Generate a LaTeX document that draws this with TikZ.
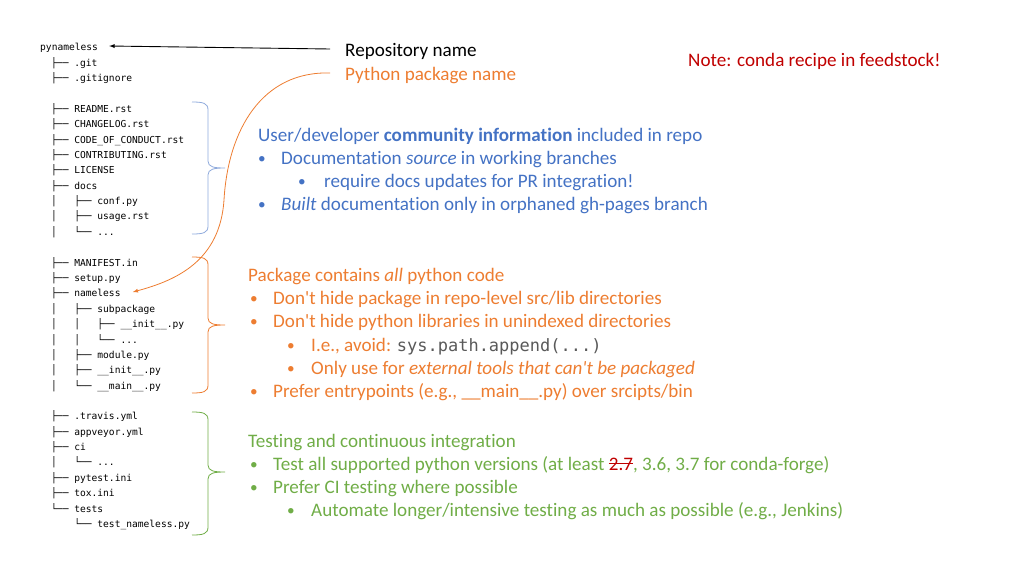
\documentclass[tikz,border=0pt]{standalone}
\usepackage{fontspec}
\setmainfont{Carlito}[Ligatures={NoCommon}]
\newfontfamily\treefont{DejaVu Sans Mono}

\definecolor{docblue}{HTML}{4472C4}
\definecolor{braceblue}{HTML}{8FAADC}
\definecolor{pkgorange}{HTML}{ED7D31}
\definecolor{cigreen}{HTML}{70AD47}
\definecolor{notered}{HTML}{C00000}
\definecolor{codegray}{HTML}{595959}

% right curly brace: colour, x, top, middle, bottom
\newcommand{\sidebrace}[5]{%
  \draw[#1, line width=0.8pt] (#2,#3) .. controls (#2+11,#3) and (#2+16,#3+1) .. (#2+16,#3+8)
    -- (#2+16,#4-7) .. controls (#2+16,#4-1) and (#2+22,#4) .. (#2+33,#4)
    .. controls (#2+22,#4) and (#2+16,#4+1) .. (#2+16,#4+7)
    -- (#2+16,#5-8) .. controls (#2+16,#5-1) and (#2+11,#5) .. (#2,#5);}
\newcommand{\bul}[1]{\makebox[#1][l]{\raisebox{0.5pt}{\scalebox{0.8}{\textbullet}}}}
\newsavebox{\strikebox}
\newcommand{\struck}[1]{\sbox{\strikebox}{#1}\rlap{\rule[0.3em]{\wd\strikebox}{0.8pt}}\usebox{\strikebox}}

\begin{document}
\begin{tikzpicture}
		[x=1pt, y=-1pt,
		tree/.style ={anchor=west, inner sep=0pt, font=\treefont\fontsize{9.6}{11}\selectfont, text height=8pt, text depth=0pt},
		txt/.style ={anchor=west, inner sep=0pt, font=\fontsize{19.1}{22}\selectfont, text height=15pt, text depth=1pt},
		blue/.style = {txt, text=docblue},
		orange/.style = {txt, text=pkgorange},
		green/.style = {txt, text=cigreen},
		]
		\useasboundingbox (0,0) rectangle (1024,576);

		% repository tree
		\draw (40,46) node[tree] (repo) {pynameless};
		\draw (51,62) node[tree] (F1) {├── .git};
		\draw (51,77) node[tree] (F2) {├── .gitignore};
		\draw (51,108) node[tree] (F3) {├── README.rst};
		\draw (51,123) node[tree] (F4) {├── CHANGELOG.rst};
		\draw (51,139) node[tree] (F5) {├── CODE\_OF\_CONDUCT.rst};
		\draw (51,154) node[tree] (F6) {├── CONTRIBUTING.rst};
		\draw (51,169) node[tree] (F7) {├── LICENSE};
		\draw (51,185) node[tree] (F8) {├── docs};
		\draw (51,200) node[tree] (F9) {│\ \ \ ├── conf.py};
		\draw (51,215) node[tree] (F10) {│\ \ \ ├── usage.rst};
		\draw (51,231) node[tree] (F11) {│\ \ \ └── ...};
		\draw (51,262) node[tree] (F12) {├── MANIFEST.in};
		\draw (51,277) node[tree] (F13) {├── setup.py};
		\draw (51,292) node[tree] (pkg) {├── nameless};
		\draw (51,308) node[tree] (F14) {│\ \ \ ├── subpackage};
		\draw (51,323) node[tree] (F15) {│\ \ \ │\ \ \ ├── \_\_init\_\_.py};
		\draw (51,339) node[tree] (F16) {│\ \ \ │\ \ \ └── ...};
		\draw (51,354) node[tree] (F17) {│\ \ \ ├── module.py};
		\draw (51,369) node[tree] (F18) {│\ \ \ ├── \_\_init\_\_.py};
		\draw (51,385) node[tree] (F19) {│\ \ \ └── \_\_main\_\_.py};
		\draw (51,415) node[tree] (F20) {├── .travis.yml};
		\draw (51,431) node[tree] (F21) {├── appveyor.yml};
		\draw (51,446) node[tree] (F22) {├── ci};
		\draw (51,461) node[tree] (F23) {│\ \ \ └── ...};
		\draw (51,477) node[tree] (F24) {├── pytest.ini};
		\draw (51,492) node[tree] (F25) {├── tox.ini};
		\draw (51,508) node[tree] (F26) {└── tests};
		\draw (51,523) node[tree] (F27) {\ \ \ \ └── test\_nameless.py};

		\sidebrace{braceblue}{192}{102}{168}{234}
		\sidebrace{pkgorange}{192}{257}{325}{393}
		\sidebrace{cigreen}{192}{412}{472}{535}

		% labels
		\draw (345,49) node[txt] (RN) {Repository name};
		\draw (345,73) node[orange] (PN) {Python package name};
		\draw (688,59) node[txt, text=notered] (NT) {Note: conda recipe in feedstock!};

		\draw (258,134) node[blue] (H1) {User/developer \textbf{community information} included in repo};
		\draw (258,157) node[blue] (B1) {\bul{23pt}Documentation \textit{source} in working branches};
		\draw (298,180) node[blue] (B2) {\bul{26pt}require docs updates for PR integration!};
		\draw (258,203) node[blue] (B3) {\bul{23pt}\textit{Built} documentation only in orphaned gh-pages branch};

		\draw (248,274) node[orange] (H2) {Package contains \textit{all} python code};
		\draw (250,297) node[orange] (B4) {\bul{23pt}Don\textquotesingle t hide package in repo-level src/lib directories};
		\draw (250,320) node[orange] (B5) {\bul{23pt}Don\textquotesingle t hide python libraries in unindexed directories};
		\draw (287,344) node[orange] (B6) {\bul{24pt}I.e., avoid: {\treefont\fontsize{17}{20}\selectfont\color{codegray}sys.path.append(...)}};
		\draw (287,367) node[orange] (B7) {\bul{24pt}Only use for \textit{external tools that can\textquotesingle t be packaged}};
		\draw (250,390) node[orange] (B8) {\bul{23pt}Prefer entrypoints (e.g., \_\_main\_\_.py) over srcipts/bin};

		\draw (248,440) node[green] (H3) {Testing and continuous integration};
		\draw (250,463) node[green] (B9) {\bul{23pt}Test all supported python versions (at least {\color{notered}\struck{2.7}}, 3.6, 3.7 for conda-forge)};
		\draw (250,486) node[green] (B10) {\bul{23pt}Prefer CI testing where possible};
		\draw (287,509) node[green] (B11) {\bul{24pt}Automate longer/intensive testing as much as possible (e.g., Jenkins)};

		% pointers
		\draw[-latex, line width=0.9pt] ([xshift=-15pt]RN.west) -- ([xshift=11pt]repo.east);
		\coordinate (bend) at (224,200);
		\draw[-latex, pkgorange, line width=0.8pt] ([xshift=-15pt]PN.west)
			.. controls +(-68,-2) and +(4,-70) .. (bend)
			.. controls +(-4,60) and +(45,-12) .. ([xshift=12pt]pkg.east);

	\end{tikzpicture}
\end{document}
